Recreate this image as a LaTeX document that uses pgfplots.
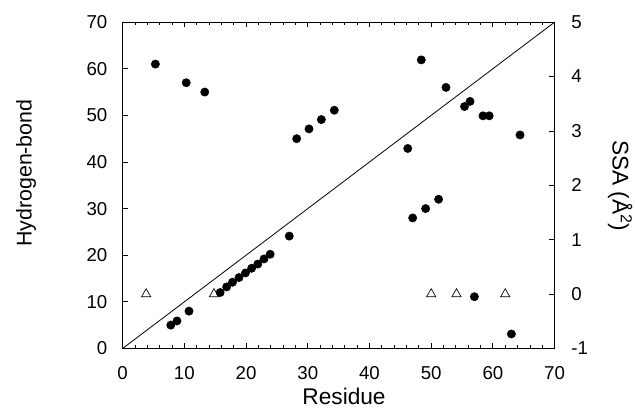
\documentclass[border=0pt]{standalone}
\usepackage{pgfplots}
\pgfplotsset{compat=1.18}
\usepackage{fontspec}
\setmainfont{Liberation Sans}

\begin{document}
\begin{tikzpicture}
\path[use as bounding box] (-92pt,-47pt) rectangle (384.2pt,261.3pt);
\pgfplotsset{
  every axis/.append style={
    scale only axis, width=323.9pt, height=244.7pt,
    xmin=0, xmax=70,
    tick style={black, line width=0.6pt},
    major tick length=4pt, minor tick length=2.4pt,
    tick align=inside,
    axis line style={line width=0.7pt},
    every tick label/.append style={font=\fontsize{14}{16}\selectfont},
    /pgf/number format/assume math mode=true,
  }
}
\begin{axis}[
    ymin=0, ymax=70,
    xtick={0,10,...,70}, minor x tick num=4,
    ytick={0,10,...,70},
    xtick pos=both, ytick pos=left,
    xticklabel pos=lower,
    xticklabel style={yshift=-10pt},
    yticklabel style={xshift=-8pt},
]
\addplot[black, line width=0.6pt] coordinates {(0,0) (70,70)};
\addplot[only marks, mark=*, mark size=3.1pt, black] coordinates {
 (5.3,61) (10.3,57) (13.3,55)
 (7.8,5) (8.8,5.9) (10.75,8)
 (15.8,12) (16.85,13.2) (17.8,14.2) (18.85,15.2) (19.9,16.2) (20.9,17.2)
 (21.9,18.1) (22.9,19.2) (23.9,20.2) (27,24.1)
 (28.2,45) (30.2,47.1) (32.2,49.1) (34.3,51.1)
 (46.2,42.9) (47,28) (48.4,61.9) (49.1,30) (51.2,32) (52.4,56)
 (55.4,51.9) (56.3,53) (57,11.1) (58.4,49.9) (59.4,49.9) (63,3.1) (64.4,45.8)
};
\end{axis}
\begin{axis}[
    ymin=-1, ymax=5,
    ytick={-1,0,...,5},
    axis x line*=none, xtick=\empty,
    ytick pos=right, yticklabel pos=right,
    axis y line*=right,
    yticklabel style={xshift=9pt},
]
\addplot[only marks, mark=triangle, mark size=4pt, black, line width=0.5pt] coordinates {
 (3.8,0) (14.8,0) (50,0) (54.1,0) (62,0)
};
\end{axis}
\node[font=\fontsize{17}{19}\selectfont, inner sep=1pt] at (166pt,-36pt) {Residue};
\node[rotate=90, font=\fontsize{16}{18}\selectfont] at (-72.5pt,131.5pt) {Hydrogen-bond};
\node[rotate=-90, font=\fontsize{17}{19}\selectfont] at (373pt,122pt) {SSA (Å\textsuperscript{2})};
\end{tikzpicture}
\end{document}
